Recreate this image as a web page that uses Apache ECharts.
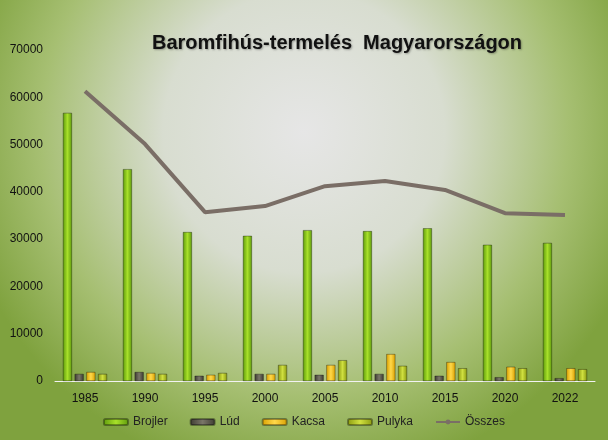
<!DOCTYPE html>
<html><head><meta charset="utf-8">
<script src="https://cdn.jsdelivr.net/npm/echarts@6/dist/echarts.min.js"></script>
<style>html,body{margin:0;padding:0}#c{width:608px;height:440px}</style>
</head><body><div id="c"></div>
<script>
const years=['1985','1990','1995','2000','2005','2010','2015','2020','2022'];
const brojler=[56700,44800,31500,30700,31900,31700,32300,28800,29200];
const lud=[1500,1900,1100,1500,1300,1500,1100,800,600];
const kacsa=[1900,1700,1300,1500,3400,5700,4000,3000,2700];
const pulyka=[1500,1500,1700,3400,4400,3200,2700,2700,2500];
const osszes=[61300,50100,35700,37000,41200,42300,40400,35500,35100];

function grad(a,b){return new echarts.graphic.LinearGradient(0,0,1,0,[{offset:0,color:a},{offset:0.5,color:b},{offset:1,color:a}]);}
function bar(name,data,c1,c2){return {name,type:'bar',data,barWidth:9,barGap:'30%',itemStyle:{color:grad(c1,c2),borderColor:'rgba(0,0,0,0.35)',borderWidth:0.5}};}
const chart=echarts.init(document.getElementById('c'));
chart.setOption({
  backgroundColor:new echarts.graphic.RadialGradient(0.5,0.3,0.8,[{offset:0,color:'#e6e6e6'},{offset:0.4,color:'#d8ddd0'},{offset:0.75,color:'#a6bf72'},{offset:1,color:'#7fa23e'}]),
  title:{text:'Baromfihús-termelés  Magyarországon',left:332,top:28,textAlign:'center',textStyle:{fontFamily:'Liberation Sans',fontSize:20,fontWeight:'bold',color:'#111',textShadowColor:'rgba(0,0,0,0.3)',textShadowBlur:2,textShadowOffsetX:1,textShadowOffsetY:1}},
  grid:{left:55,right:13,top:50,bottom:59},
  legend:{bottom:7,left:'center',itemWidth:24,itemHeight:6,itemGap:22,textStyle:{fontFamily:'Liberation Sans',fontSize:12,color:'#222'},data:['Brojler','Lúd','Kacsa','Pulyka','Összes']},
  xAxis:{type:'category',data:years,axisTick:{show:false},axisLine:{lineStyle:{color:'#f2f2f2',width:1}},axisLabel:{fontFamily:'Liberation Sans',fontSize:12,color:'#111',margin:12}},
  yAxis:{type:'value',min:0,max:70000,interval:10000,splitLine:{show:false},axisLine:{show:false},axisLabel:{fontFamily:'Liberation Sans',fontSize:12,color:'#111',margin:12,formatter:v=>String(v)}},
  series:[
    bar('Brojler',brojler,'#5e9a0c','#a8e02a'),
    bar('Lúd',lud,'#3c3a30','#7a7668'),
    bar('Kacsa',kacsa,'#d9a000','#ffd84a'),
    bar('Pulyka',pulyka,'#8a9a10','#d0e040'),
    {name:'Összes',type:'line',data:osszes,symbol:'none',lineStyle:{color:'#7a6e66',width:4},itemStyle:{color:'#7a6e66'}}
  ]
});
</script></body></html>
